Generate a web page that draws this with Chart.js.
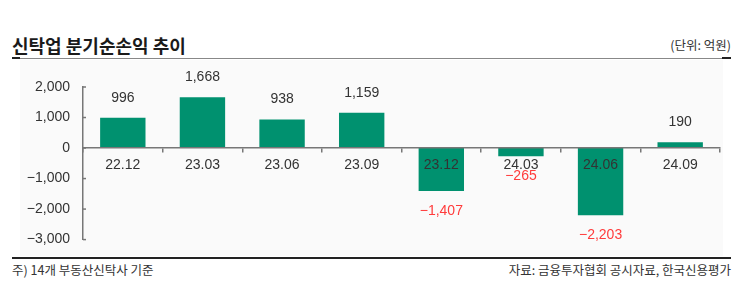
<!DOCTYPE html>
<html>
<head>
<meta charset="utf-8">
<script src="https://cdn.jsdelivr.net/npm/chart.js@4.4.1/dist/chart.umd.min.js"></script>
<style>
    body { margin: 0; width: 743px; height: 291px; position: relative; overflow: hidden; background: #fff;
           font-family: "Noto Sans CJK KR", "Noto Sans", sans-serif; color: #222; }
    .abs { position: absolute; white-space: nowrap; }
    #title { left: 12px; top: 32px; font-size: 18px; font-weight: bold; line-height: 26px; color: #1a1a1a; }
    #unit { right: 12px; top: 36px; font-size: 12.5px; line-height: 18px; color: #333; }
    #topLine { left: 12px; top: 58px; width: 719px; height: 1px; background: #888; }
    #topL { left: 12px; top: 57px; width: 8px; height: 2px; background: #222; }
    #topR { left: 722px; top: 57px; width: 9px; height: 2px; background: #222; }
    #plotBg { left: 20px; top: 60px; width: 703px; height: 196px; background: #fafafa; }
    #bottomLine { left: 12px; top: 257px; width: 719px; height: 2px; background: #222; }
    #note { left: 12px; top: 261px; font-size: 12.5px; line-height: 18px; color: #333; }
    #source { right: 12px; top: 261px; font-size: 12.5px; line-height: 18px; color: #333; }
    #wrap { position: absolute; left: 20px; top: 60px; width: 703px; height: 196px; overflow: hidden; }
    #wrap canvas { display: block; }
</style>
</head>
<body>
<div class="abs" id="title">신탁업 분기순손익 추이</div>
<div class="abs" id="unit">(단위: 억원)</div>
<div class="abs" id="topLine"></div>
<div class="abs" id="topL"></div>
<div class="abs" id="topR"></div>
<div class="abs" id="plotBg"></div>
<div id="wrap"><canvas id="profitChart" width="703" height="201"></canvas></div>
<div class="abs" id="bottomLine"></div>
<div class="abs" id="note">주) 14개 부동산신탁사 기준</div>
<div class="abs" id="source">자료: 금융투자협회 공시자료, 한국신용평가</div>

<script>
// data
const quarters = ['22.12', '23.03', '23.06', '23.09', '23.12', '24.03', '24.06', '24.09'];
const netIncome = [996, 1668, 938, 1159, -1407, -265, -2203, 190];
const yMin = -3000;
const yMax = 2000;
const yStep = 1000;

const numFont = { family: '"Liberation Sans", Arial, sans-serif', size: 14 };

function fmt(v) {
    const s = Math.abs(v).toLocaleString('en-US');
    return v < 0 ? '\u2212' + s : s;
}

// value labels above / below each bar
const valueLabels = {
    id: 'valueLabels',
    afterDatasetsDraw(chart) {
        const ctx = chart.ctx;
        const meta = chart.getDatasetMeta(0);
        ctx.save();
        ctx.font = numFont.size + 'px ' + numFont.family;
        ctx.textAlign = 'center';
        ctx.textBaseline = 'middle';
        meta.data.forEach((bar, i) => {
            const v = netIncome[i];
            ctx.fillStyle = v < 0 ? '#ff3b3b' : '#333';
            ctx.fillText(fmt(v), bar.x, v < 0 ? bar.y + 20 : bar.y - 20);
        });
        ctx.restore();
    }
};

// small inward tick marks on the y axis
const yInnerTicks = {
    id: 'yInnerTicks',
    afterDraw(chart) {
        const y = chart.scales.y;
        const ctx = chart.ctx;
        ctx.save();
        ctx.strokeStyle = '#777';
        ctx.lineWidth = 1.5;
        y.ticks.forEach(t => {
            const py = y.getPixelForValue(t.value);
            ctx.beginPath();
            ctx.moveTo(y.right, py);
            ctx.lineTo(y.right + 3, py);
            ctx.stroke();
        });
        ctx.restore();
    }
};

const ctx = document.getElementById('profitChart');
new Chart(ctx, {
    type: 'bar',
    data: {
        labels: quarters,
        datasets: [{
            data: netIncome,
            backgroundColor: '#00916f',
            barPercentage: 0.57,
            categoryPercentage: 1.0
        }]
    },
    options: {
        responsive: false,
        animation: false,
        layout: { padding: { top: 27, right: 3, bottom: 18, left: 0 } },
        plugins: { legend: { display: false }, tooltip: { enabled: false } },
        scales: {
            x: {
                position: { y: 0 },
                offset: true,
                grid: { drawOnChartArea: false, drawTicks: true, tickLength: 4, color: '#777', lineWidth: 1.5, z: 1 },
                border: { display: true, color: '#777', width: 1.5, z: 1 },
                ticks: { font: numFont, color: '#333', padding: 5, maxRotation: 0, z: 1 },
                afterFit(scale) { scale.height = 0; }
            },
            y: {
                min: yMin,
                max: yMax,
                grid: { display: false, drawTicks: false },
                border: { display: true, color: '#777', width: 1.5 },
                ticks: { stepSize: yStep, font: numFont, color: '#333', padding: 13, callback: v => fmt(v) },
                afterFit(scale) { scale.width = 63; }
            }
        }
    },
    plugins: [valueLabels, yInnerTicks]
});
</script>
</body>
</html>
